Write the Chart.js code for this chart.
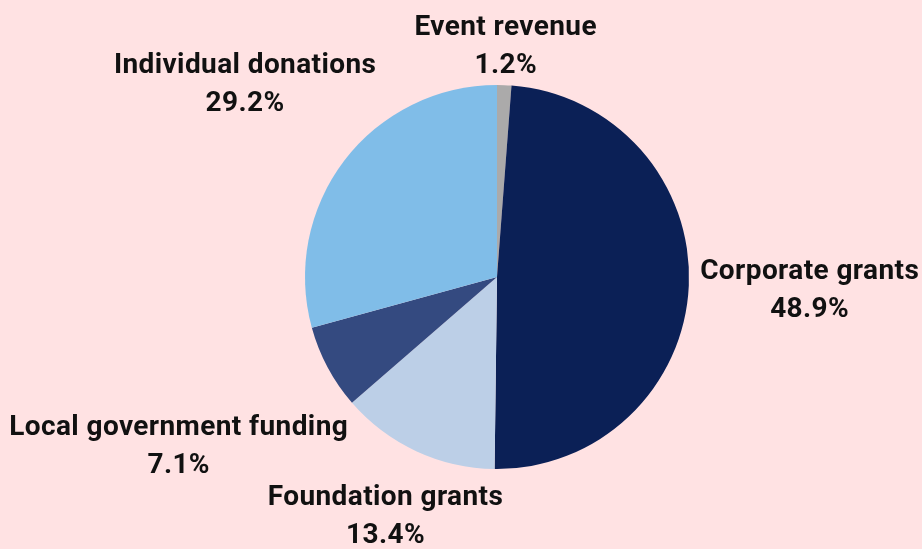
<!DOCTYPE html>
<html>
<head>
<meta charset="utf-8">
<script src="https://cdn.jsdelivr.net/npm/chart.js@4/dist/chart.umd.min.js"></script>
<style>
    html, body { margin: 0; padding: 0; background: #ffe2e3; }
    #wrap { width: 922px; height: 549px; position: relative; }
</style>
</head>
<body>
<div id="wrap"><canvas id="pieChart"></canvas></div>
<script>
    // --- DATA ---
    const categories = ['Event revenue', 'Corporate grants', 'Foundation grants', 'Local government funding', 'Individual donations'];
    const shares = [1.2, 48.9, 13.4, 7.1, 29.2];
    const sliceColors = ['#abaaaa', '#0b2056', '#bccfe7', '#344a80', '#80bde8'];
    // how far out each label block sits, as a multiple of the pie radius
    const labelDistance = [1.2, 1.63, 1.38, 1.88, 1.65];

    // --- LABEL PLUGIN ---
    const outsideLabels = {
        id: 'outsideLabels',
        afterDraw(chart) {
            const ctx = chart.ctx;
            const meta = chart.getDatasetMeta(0);
            ctx.save();
            ctx.font = 'bold 28px Roboto, "Liberation Sans", sans-serif';
            ctx.letterSpacing = '0.4px';
            ctx.fillStyle = '#111111';
            ctx.textAlign = 'center';
            ctx.textBaseline = 'middle';
            meta.data.forEach((arc, i) => {
                const p = arc.getProps(['x', 'y', 'startAngle', 'endAngle', 'outerRadius'], true);
                const mid = (p.startAngle + p.endAngle) / 2;
                const r = p.outerRadius * labelDistance[i];
                const x = p.x + Math.cos(mid) * r;
                const y = p.y + Math.sin(mid) * r;
                ctx.fillText(categories[i], x, y - 19);
                ctx.fillText(shares[i].toFixed(1) + '%', x, y + 19);
            });
            ctx.restore();
        }
    };

    new Chart(document.getElementById('pieChart').getContext('2d'), {
        type: 'pie',
        data: {
            labels: categories,
            datasets: [{
                data: shares,
                backgroundColor: sliceColors,
                borderWidth: 0
            }]
        },
        options: {
            responsive: true,
            maintainAspectRatio: false,
            animation: false,
            layout: { padding: { left: 305, right: 233, top: 85, bottom: 80 } },
            plugins: {
                legend: { display: false },
                tooltip: { enabled: false }
            }
        },
        plugins: [outsideLabels]
    });
</script>
</body>
</html>
